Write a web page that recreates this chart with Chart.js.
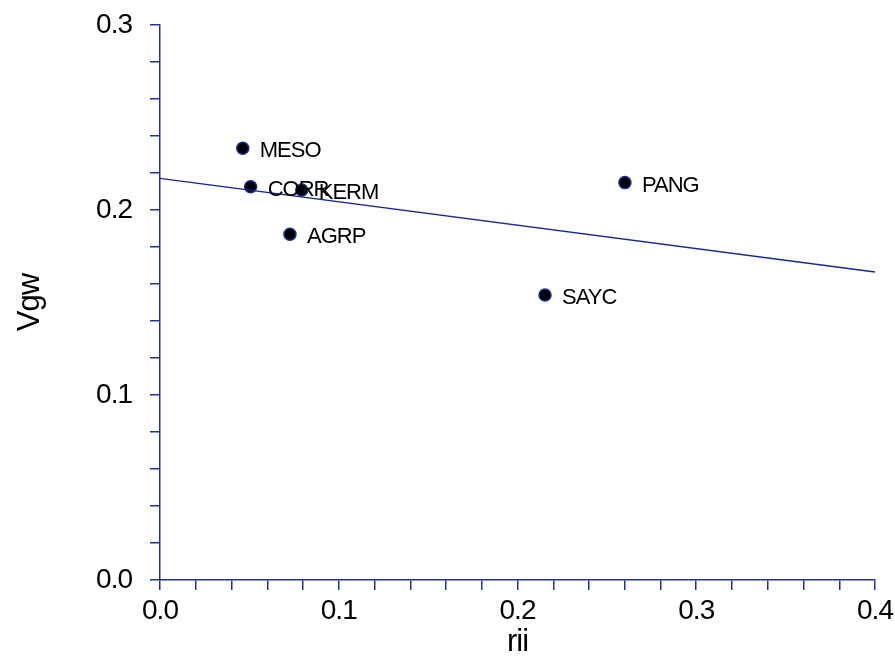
<!DOCTYPE html>
<html>
<head>
<meta charset="utf-8">
<script src="https://cdn.jsdelivr.net/npm/chart.js@4"></script>
<style>
html,body{margin:0;padding:0;background:#fff;}
#wrap{width:895px;height:665px;}
</style>
</head>
<body>
<div id="wrap"><canvas id="c"></canvas></div>
<script>
// point data
const names=["MESO","CORR","KERM","AGRP","PANG","SAYC"];
const rii=[0.0463,0.0507,0.0793,0.0727,0.2601,0.2154];
const vgw=[0.2334,0.2126,0.2108,0.1869,0.2148,0.1541];

// fitted line, two ends
const lineX=[0.0,0.4];
const lineY=[0.2171,0.1665];

const axisColor="#22339e";
const fontFam="'Liberation Sans', Arial, sans-serif";

const pts=rii.map((x,i)=>({x:x,y:vgw[i]}));
const linePts=lineX.map((x,i)=>({x:x,y:lineY[i]}));

// tighter letters like the original
const tightText={
id:"tightText",
beforeDraw(chart){chart.ctx.letterSpacing="-1px";}
};

const pointLabels={
id:"pointLabels",
afterDatasetsDraw(chart){
const ctx=chart.ctx;
const meta=chart.getDatasetMeta(1);
ctx.save();
ctx.letterSpacing="-1px";
ctx.font="22px "+fontFam;
ctx.fillStyle="#000";
ctx.textBaseline="middle";
ctx.textAlign="left";
meta.data.forEach((el,i)=>{
ctx.fillText(names[i],el.x+17,el.y+3);
});
ctx.restore();
}
};

function tickLabel(v){
const n=Math.round(v*100);
if(n%10!==0)return "";
return (n/100).toFixed(1);
}

new Chart(document.getElementById("c"),{
type:"scatter",
data:{
datasets:[
{
type:"line",
data:linePts,
borderColor:"#14259c",
borderWidth:1.4,
pointRadius:0,
fill:false
},
{
data:pts,
backgroundColor:"#000",
borderColor:"#1a2a9a",
borderWidth:1.5,
pointRadius:6,
pointHoverRadius:6
}
]
},
options:{
responsive:true,
maintainAspectRatio:false,
animation:false,
events:[],
layout:{padding:{top:25,right:20,left:0,bottom:0}},
plugins:{legend:{display:false},tooltip:{enabled:false}},
scales:{
x:{
type:"linear",
min:0,max:0.4,
afterFit(s){s.height=85;s.paddingLeft=0;s.paddingRight=0;},
afterBuildTicks(s){
const t=[];
for(let i=0;i<=20;i++)t.push({value:i*0.02});
s.ticks=t;
},
border:{color:axisColor,width:1.5},
grid:{drawOnChartArea:false,drawTicks:true,tickLength:10,color:axisColor,lineWidth:1.5},
ticks:{autoSkip:false,maxRotation:0,padding:4,color:"#000",font:{family:fontFam,size:28},callback:tickLabel},
title:{display:true,text:"rii",color:"#000",font:{family:fontFam,size:31},padding:{top:0,bottom:4}}
},
y:{
type:"linear",
min:0,max:0.3,
afterFit(s){s.width=160;s.paddingTop=0;s.paddingBottom=0;},
afterBuildTicks(s){
const t=[];
for(let i=0;i<=15;i++)t.push({value:i*0.02});
s.ticks=t;
},
border:{color:axisColor,width:1.5},
grid:{drawOnChartArea:false,drawTicks:true,tickLength:10,color:axisColor,lineWidth:1.5},
ticks:{autoSkip:false,padding:18,color:"#000",font:{family:fontFam,size:28},callback:tickLabel},
title:{display:true,text:"Vgw",color:"#000",font:{family:fontFam,size:31},padding:{top:12,bottom:0}}
}
}
},
plugins:[tightText,pointLabels]
});
</script>
</body>
</html>
